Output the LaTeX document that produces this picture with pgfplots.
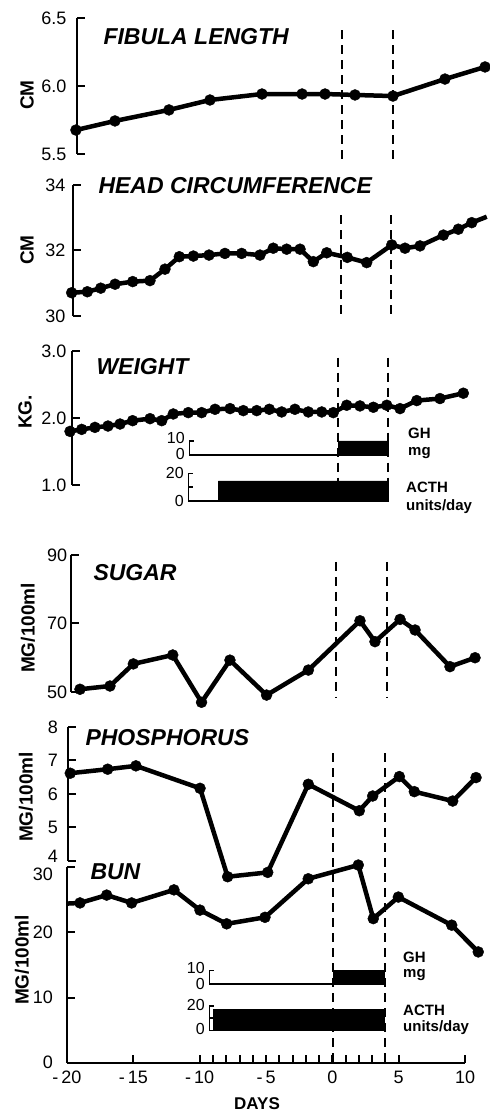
\documentclass[border=0pt]{standalone}
\usepackage{fontspec}
\setmainfont{Liberation Sans}
\usepackage{pgfplots}
\pgfplotsset{compat=1.18}
\newcommand\titlefont{\fontsize{23}{26}\selectfont\bfseries\itshape}
\newcommand\ylabfont{\fontsize{19}{21}\selectfont\bfseries}
\newcommand\insetfont{\fontsize{15}{16}\selectfont\bfseries}
\newcommand\mn{-\hspace{3pt}}
\begin{document}
\begin{tikzpicture}
\useasboundingbox (0pt,0pt) rectangle (490pt,1112pt);
\pgfplotsset{
 common/.style={
  scale only axis, clip=false, anchor=south west,
  axis line style={line width=2pt},
  every tick/.style={line width=2pt, black},
  major tick length=8pt, tick align=inside,
  yticklabel style={font=\fontsize{18}{20}\selectfont},
  /pgf/number format/assume math mode=true,
 },
 panel/.style={common, axis x line=none, axis y line*=left,
  xmin=-20, xmax=12, width=424.64pt},
 inset/.style={
  scale only axis, clip=false, anchor=south west,
  axis x line=none, axis y line*=left,
  axis line style={line width=1.5pt},
  every tick/.style={line width=1.5pt, black},
  major tick length=5pt, tick align=inside,
  yticklabel style={font=\fontsize{16}{18}\selectfont, xshift=-1pt},
  /pgf/number format/assume math mode=true,
 },
 data/.style={black, line width=4.5pt, mark=*, mark size=5.5pt, line join=round,
  mark options={solid, line width=0.4pt}},
 dline/.style={black, line width=4.5pt, line join=round},
 dmark/.style={black, only marks, mark=*, mark size=5.5pt, mark options={line width=0.4pt}},
 dash/.style={black, line width=1.8pt, dash pattern=on 9pt off 6pt},
}
% ---------------- FIBULA LENGTH
\begin{axis}[panel, at={(77pt,958pt)}, height=136pt, ymin=5.5, ymax=6.5,
  ytick={5.5,6,6.5}, yticklabels={5.5,6.0,6.5}, yticklabel style={xshift=-7pt}]
\addplot[dash] coordinates {(-0.03,6.41) (-0.03,5.44)};
\addplot[dash] coordinates {(3.81,6.41) (3.81,5.44)};
\addplot[data] coordinates {(-20.08,5.676) (-17.14,5.743) (-13.07,5.824) (-9.98,5.897) (-6.06,5.941) (-3.04,5.941) (-1.31,5.941) (0.95,5.934) (3.81,5.926) (7.73,6.051) (10.75,6.14)};
\end{axis}
% ---------------- HEAD CIRCUMFERENCE
\begin{axis}[panel, at={(73pt,796pt)}, height=131pt, ymin=30, ymax=34,
  ytick={30,32,34}, yticklabel style={xshift=-4pt}]
\addplot[dash] coordinates {(0.2,33.08) (0.2,29.88)};
\addplot[dash] coordinates {(3.96,33.08) (3.96,29.88)};
\addplot[dline] coordinates {(-20.10,30.71) (-18.92,30.74) (-17.91,30.85) (-16.83,30.97) (-15.50,31.05) (-14.20,31.08) (-13.07,31.43) (-11.99,31.81) (-10.93,31.83) (-9.75,31.86) (-8.55,31.91) (-7.29,31.91) (-5.91,31.86) (-4.91,32.07) (-3.90,32.04) (-2.89,32.04) (-1.89,31.66) (-0.88,31.93) (0.67,31.79) (2.13,31.63) (4.02,32.17) (5.02,32.07) (6.15,32.14) (7.91,32.47) (9.04,32.65) (10.05,32.85) (11.18,33.03)};
\addplot[dmark] coordinates {(-20.10,30.71) (-18.92,30.74) (-17.91,30.85) (-16.83,30.97) (-15.50,31.05) (-14.20,31.08) (-13.07,31.43) (-11.99,31.81) (-10.93,31.83) (-9.75,31.86) (-8.55,31.91) (-7.29,31.91) (-5.91,31.86) (-4.91,32.07) (-3.90,32.04) (-2.89,32.04) (-1.89,31.66) (-0.88,31.93) (0.67,31.79) (2.13,31.63) (4.02,32.17) (5.02,32.07) (6.15,32.14) (7.91,32.47) (9.04,32.65) (10.05,32.85)};
\end{axis}
% ---------------- WEIGHT
\begin{axis}[panel, at={(72pt,627pt)}, height=134pt, ymin=1, ymax=3,
  ytick={1,2,3}, yticklabels={1.0,2.0,3.0}, yticklabel style={xshift=-2pt}]
\addplot[dash] coordinates {(0.05,2.9) (0.05,0.8)};
\addplot[dash] coordinates {(3.81,2.9) (3.81,0.8)};
\addplot[data] coordinates {(-20.15,1.80) (-19.27,1.83) (-18.27,1.86) (-17.29,1.88) (-16.38,1.91) (-15.43,1.96) (-14.12,1.99) (-13.24,1.96) (-12.37,2.06) (-11.24,2.08) (-10.23,2.08) (-9.22,2.13) (-8.09,2.14) (-7.09,2.11) (-6.08,2.11) (-5.13,2.13) (-4.20,2.09) (-3.20,2.13) (-2.19,2.09) (-1.18,2.09) (-0.31,2.08) (0.70,2.19) (1.70,2.18) (2.71,2.16) (3.72,2.19) (4.72,2.14) (5.98,2.26) (7.73,2.29) (9.49,2.37)};
\end{axis}
% weight insets
\begin{axis}[inset, at={(189.3pt,657pt)}, height=14pt, width=201.2pt,
  xmin=-11.16, xmax=4, ymin=0, ymax=10, ytick={0,10},
  yticklabels={\raisebox{2pt}{0},\raisebox{6pt}{10}}]
\addplot[black, line width=1.3pt] coordinates {(-11.16,0) (0.07,0)};
\addplot[fill=black, draw=black] coordinates {(0.07,0) (0.07,10) (3.84,10) (3.84,0)} \closedcycle;
\end{axis}
\begin{axis}[inset, at={(188.3pt,611pt)}, height=27.7pt, width=202.2pt,
  xmin=-11.24, xmax=4, ymin=0, ymax=20, ytick={0,20}, extra y ticks={10}, extra y tick labels={},
  yticklabels={\raisebox{-2pt}{0},\raisebox{-2pt}{20}}]
\addplot[black, line width=1.3pt] coordinates {(-11.24,0) (-8.98,0)};
\addplot[fill=black, draw=black] coordinates {(-8.98,0) (-8.98,14.5) (3.84,14.5) (3.84,0)} \closedcycle;
\end{axis}
% ---------------- SUGAR
\begin{axis}[panel, at={(70.7pt,420pt)}, height=137pt, ymin=50, ymax=90,
  ytick={50,70,90}, yticklabel style={xshift=0pt}]
\addplot[dash] coordinates {(-0.01,87.96) (-0.01,48.5)};
\addplot[dash] coordinates {(3.84,87.96) (3.84,48.5)};
\addplot[data] coordinates {(-19.3,50.8) (-17.04,51.75) (-15.28,58.2) (-12.31,60.8) (-10.14,47.0) (-8.0,59.3) (-5.24,49.1) (-2.09,56.4) (1.80,70.8) (2.93,64.7) (4.82,71.2) (5.95,68.1) (8.58,57.4) (10.47,60.0)};
\end{axis}
% ---------------- PHOSPHORUS
\begin{axis}[panel, at={(68pt,251pt)}, height=134pt, ymin=4, ymax=8,
  ytick={4,5,6,7,8}, yticklabels={\smash{\raisebox{-2pt}{4}},5,6,7,8},
  yticklabel style={inner sep=1pt, xshift=-9pt}]
\addplot[data] coordinates {(-19.83,6.62) (-17.01,6.74) (-14.88,6.84) (-10.05,6.17) (-7.97,3.53) (-4.95,3.66) (-1.89,6.29) (1.95,5.50) (2.96,5.94) (4.97,6.52) (6.10,6.07) (8.99,5.79) (10.75,6.49)};
\end{axis}
% ---------------- BUN
\begin{axis}[common, at={(67pt,49pt)}, height=196pt, ymin=0, ymax=30, xmin=-20, xmax=10, width=398.1pt,
  axis x line*=bottom, axis y line*=left,
  ytick={0,10,20,30}, yticklabels={\raisebox{2pt}{0},10,20,\smash{\raisebox{-13pt}{30}}},
  yticklabel style={inner sep=1pt, xshift=-13pt},
  xtick={-20,-15,-10,-5,0,5,10}, xticklabels={\mn20,\mn15,\mn10,\mn5,0,5,10},
  minor xtick={-9,-8,-7,-6,-4,-3,-2,-1,1,2,3,4}, minor tick length=8pt,
  xticklabel style={font=\fontsize{18}{20}\selectfont, inner sep=1pt, yshift=-7pt}]
\addplot[dash] coordinates {(0.02,47.4) (0.02,0)};
\addplot[dash] coordinates {(3.95,47.4) (3.95,0)};
\addplot[dline] coordinates {(-20,24.4) (-19.02,24.5) (-17.01,25.7) (-15.13,24.5) (-11.94,26.5) (-9.98,23.4) (-7.97,21.3) (-5.08,22.3) (-1.82,28.2) (1.95,30.3) (3.08,22.1) (4.97,25.4) (8.99,21.1) (10.99,17.0)};
\addplot[dmark] coordinates {(-19.02,24.5) (-17.01,25.7) (-15.13,24.5) (-11.94,26.5) (-9.98,23.4) (-7.97,21.3) (-5.08,22.3) (-1.82,28.2) (1.95,30.3) (3.08,22.1) (4.97,25.4) (8.99,21.1) (10.99,17.0)};
\end{axis}
% BUN insets
\begin{axis}[inset, at={(209.3pt,128pt)}, height=13.3pt, width=176.2pt,
  xmin=-9.28, xmax=4, ymin=0, ymax=10, ytick={0,10},
  yticklabels={\raisebox{1pt}{0},\raisebox{6pt}{10}}]
\addplot[black, line width=1.3pt] coordinates {(-9.28,0) (0.07,0)};
\addplot[fill=black, draw=black] coordinates {(0.07,0) (0.07,10) (3.89,10) (3.89,0)} \closedcycle;
\end{axis}
\begin{axis}[inset, at={(209.3pt,81.5pt)}, height=24.5pt, width=176.2pt,
  xmin=-9.28, xmax=4, ymin=0, ymax=20, ytick={0,20}, extra y ticks={10}, extra y tick labels={},
  yticklabels={\raisebox{3pt}{0},\raisebox{2pt}{20}}]
\addplot[fill=black, draw=black] coordinates {(-8.97,0) (-8.97,17) (3.89,17) (3.89,0)} \closedcycle;
\end{axis}
% ---------------- texts
\node[anchor=west, font=\titlefont] at (100pt,1075pt) {FIBULA LENGTH};
\node[anchor=west, font=\titlefont] at (95pt,926pt) {HEAD CIRCUMFERENCE};
\node[anchor=west, font=\titlefont] at (93pt,745pt) {WEIGHT};
\node[anchor=west, font=\titlefont] at (90pt,539pt) {SUGAR};
\node[anchor=west, font=\titlefont] at (82pt,374pt) {PHOSPHORUS};
\node[anchor=west, font=\titlefont] at (87pt,240pt) {BUN};
\node[rotate=90, font=\ylabfont] at (27pt,1017pt) {CM};
\node[rotate=90, font=\ylabfont] at (27pt,862pt) {CM};
\node[rotate=90, font=\ylabfont] at (25pt,700pt) {KG.};
\node[rotate=90, font=\ylabfont] at (28pt,484pt) {MG/100ml};
\node[rotate=90, font=\ylabfont] at (26pt,315pt) {MG/100ml};
\node[rotate=90, font=\ylabfont] at (22pt,152pt) {MG/100ml};
\node[anchor=west, inner sep=0pt, font=\insetfont] at (408pt,679pt) {GH};
\node[anchor=west, inner sep=0pt, font=\insetfont] at (408pt,659pt) {mg};
\node[anchor=west, inner sep=0pt, font=\insetfont] at (406pt,625pt) {ACTH};
\node[anchor=west, inner sep=0pt, font=\insetfont] at (406pt,605pt) {units/day};
\node[anchor=west, inner sep=0pt, font=\insetfont] at (403pt,155pt) {GH};
\node[anchor=west, inner sep=0pt, font=\insetfont] at (403pt,137pt) {mg};
\node[anchor=west, inner sep=0pt, font=\insetfont] at (403pt,102pt) {ACTH};
\node[anchor=west, inner sep=0pt, font=\insetfont] at (403pt,84pt) {units/day};
\node[font=\fontsize{17}{19}\selectfont\bfseries] at (257pt,8pt) {DAYS};
\end{tikzpicture}
\end{document}
